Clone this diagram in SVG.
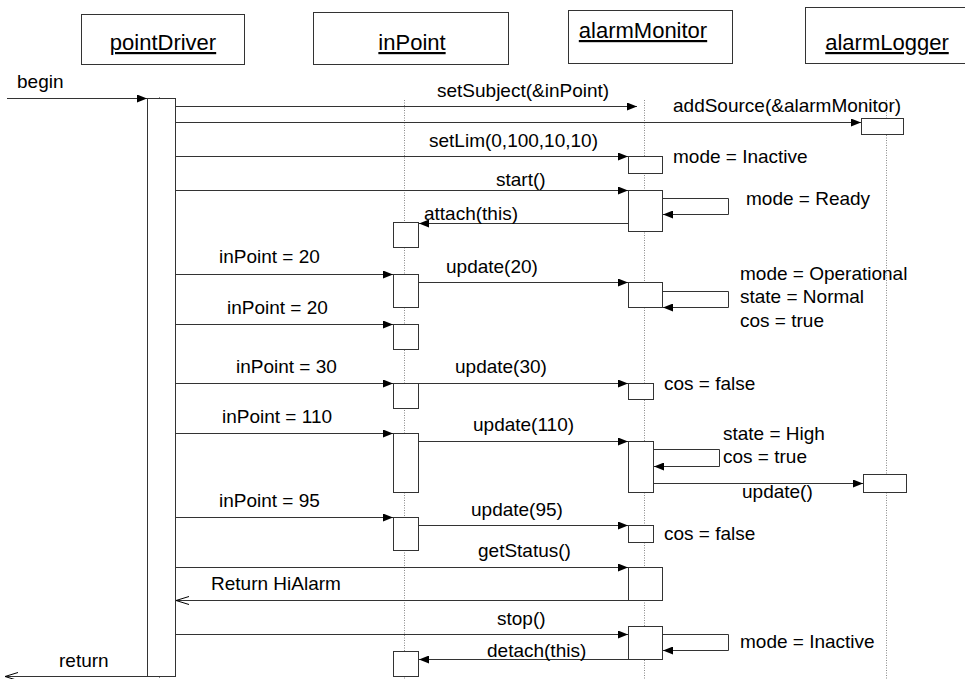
<svg xmlns="http://www.w3.org/2000/svg" width="965" height="679" viewBox="0 0 965 679">
<defs>
<marker id="arr" markerUnits="userSpaceOnUse" markerWidth="10" markerHeight="8" refX="10" refY="4" orient="auto">
<path d="M0,0 L10,4 L0,8 z" fill="#000"/>
</marker>
<marker id="open" markerUnits="userSpaceOnUse" markerWidth="14" markerHeight="10" refX="13" refY="5" orient="auto">
<path d="M0,1 L13,5 L0,9" fill="none" stroke="#000" stroke-width="1"/>
</marker>
</defs>
<style>
.hdr{fill:#fff;stroke:#333;stroke-width:1}
.hl{font-family:"Liberation Sans",Arial,sans-serif;font-size:22px;fill:#000;text-decoration:underline;text-anchor:middle}
.life{stroke:#888;stroke-width:1;stroke-dasharray:1,1.5;fill:none}
.act{fill:#fff;stroke:#333;stroke-width:1}
.msg{stroke:#333;stroke-width:1;fill:none;marker-end:url(#arr)}
.ret{stroke:#333;stroke-width:1;fill:none;marker-end:url(#open)}
.lbl{font-family:"Liberation Sans",Arial,sans-serif;font-size:19px;fill:#000}
</style>
<rect width="965" height="679" fill="#fff"/>

<g id="pointDriver">
<rect class="hdr" x="81.5" y="14.5" width="163" height="50"/>
<text class="hl" x="163" y="50">pointDriver</text>
<line class="life" x1="159.5" y1="97" x2="159.5" y2="679"/>
<rect class="act" x="147.5" y="98.5" width="28" height="578"/>
</g>

<g id="inPoint">
<rect class="hdr" x="313.5" y="12.5" width="195" height="52"/>
<text class="hl" x="412" y="50">inPoint</text>
<line class="life" x1="404.5" y1="100" x2="404.5" y2="679"/>
<rect class="act" x="393.5" y="222.5" width="25" height="25"/>
<rect class="act" x="393.5" y="274.5" width="25" height="33"/>
<rect class="act" x="393.5" y="324.5" width="25" height="25"/>
<rect class="act" x="393.5" y="383.5" width="25" height="25"/>
<rect class="act" x="393.5" y="433.5" width="25" height="59"/>
<rect class="act" x="393.5" y="517.5" width="25" height="33"/>
<rect class="act" x="393.5" y="651.5" width="25" height="25"/>
</g>

<g id="alarmMonitor">
<rect class="hdr" x="568.5" y="10.5" width="164" height="53"/>
<text class="hl" x="643" y="38">alarmMonitor</text>
<line class="life" x1="644.5" y1="100" x2="644.5" y2="679"/>
<rect class="act" x="628.5" y="156.5" width="34" height="17"/>
<rect class="act" x="628.5" y="190.5" width="34" height="41"/>
<rect class="act" x="628.5" y="282.5" width="34" height="25"/>
<rect class="act" x="628.5" y="383.5" width="25" height="16"/>
<rect class="act" x="628.5" y="441.5" width="25" height="51"/>
<rect class="act" x="628.5" y="525.5" width="25" height="17"/>
<rect class="act" x="628.5" y="567.5" width="34" height="33"/>
<rect class="act" x="628.5" y="626.5" width="34" height="33"/>
</g>

<g id="alarmLogger">
<rect class="hdr" x="805.5" y="7.5" width="160" height="56"/>
<text class="hl" x="887" y="50">alarmLogger</text>
<line class="life" x1="886.5" y1="100" x2="886.5" y2="679"/>
<rect class="act" x="861.5" y="118.5" width="42" height="16"/>
<rect class="act" x="863.5" y="474.5" width="43" height="18"/>
</g>

<g id="connectors">
<line class="msg" x1="7" y1="98.5" x2="147" y2="98.5"/>
<line class="msg" x1="176" y1="106.5" x2="637" y2="106.5"/>
<line class="msg" x1="176" y1="122.5" x2="861" y2="122.5"/>
<line class="msg" x1="176" y1="156.5" x2="628" y2="156.5"/>
<line class="msg" x1="176" y1="190.5" x2="628" y2="190.5"/>
<polyline class="msg" points="663,198.5 728.5,198.5 728.5,214.5 663,214.5"/>
<line class="msg" x1="628" y1="223.5" x2="419" y2="223.5"/>
<line class="msg" x1="176" y1="274.5" x2="393" y2="274.5"/>
<line class="msg" x1="419" y1="282.5" x2="628" y2="282.5"/>
<polyline class="msg" points="663,291.5 728.5,291.5 728.5,307.5 663,307.5"/>
<line class="msg" x1="176" y1="324.5" x2="393" y2="324.5"/>
<line class="msg" x1="176" y1="383.5" x2="393" y2="383.5"/>
<line class="msg" x1="419" y1="383.5" x2="628" y2="383.5"/>
<line class="msg" x1="176" y1="433.5" x2="393" y2="433.5"/>
<line class="msg" x1="419" y1="441.5" x2="628" y2="441.5"/>
<polyline class="msg" points="654,449.5 719.5,449.5 719.5,466.5 654,466.5"/>
<line class="msg" x1="654" y1="483.5" x2="863" y2="483.5"/>
<line class="msg" x1="176" y1="517.5" x2="393" y2="517.5"/>
<line class="msg" x1="419" y1="525.5" x2="628" y2="525.5"/>
<line class="msg" x1="176" y1="567.5" x2="628" y2="567.5"/>
<line class="ret" x1="628" y1="600.5" x2="176" y2="600.5"/>
<line class="msg" x1="176" y1="634.5" x2="628" y2="634.5"/>
<polyline class="msg" points="663,634.5 728.5,634.5 728.5,650.5 663,650.5"/>
<line class="msg" x1="628" y1="659.5" x2="419" y2="659.5"/>
<line class="ret" x1="147" y1="676.5" x2="5" y2="676.5"/>
</g>

<g id="labels" class="lbl">
<text x="17" y="88">begin</text>
<text x="437" y="97">setSubject(&amp;inPoint)</text>
<text x="673" y="112">addSource(&amp;alarmMonitor)</text>
<text x="429" y="147">setLim(0,100,10,10)</text>
<text x="673" y="163">mode = Inactive</text>
<text x="496" y="186">start()</text>
<text x="746" y="205">mode = Ready</text>
<text x="424" y="220">attach(this)</text>
<text x="219" y="263">inPoint = 20</text>
<text x="446" y="273">update(20)</text>
<text x="740" y="280">mode = Operational</text>
<text x="740" y="303">state = Normal</text>
<text x="740" y="327">cos = true</text>
<text x="227" y="314">inPoint = 20</text>
<text x="236" y="373">inPoint = 30</text>
<text x="455" y="373">update(30)</text>
<text x="664" y="390">cos = false</text>
<text x="222" y="423">inPoint = 110</text>
<text x="473" y="431">update(110)</text>
<text x="723" y="440">state = High</text>
<text x="723" y="463">cos = true</text>
<text x="742" y="498">update()</text>
<text x="219" y="507">inPoint = 95</text>
<text x="471" y="516">update(95)</text>
<text x="664" y="540">cos = false</text>
<text x="478" y="557">getStatus()</text>
<text x="211" y="590">Return HiAlarm</text>
<text x="497" y="625">stop()</text>
<text x="740" y="648">mode = Inactive</text>
<text x="487" y="657">detach(this)</text>
<text x="59" y="667">return</text>
</g>
</svg>
